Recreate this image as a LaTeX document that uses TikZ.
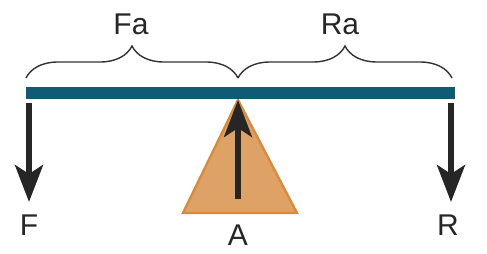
\documentclass[tikz,border=0pt]{standalone}
\usepackage{fontspec}
\setmainfont{Liberation Sans}
\usepackage{xcolor}
\usepackage{tikz}
\usetikzlibrary{arrows.meta, positioning, calc, decorations.pathreplacing}
\definecolor{beamteal}{HTML}{0F5B75}
\definecolor{pivotfill}{HTML}{DFA266}
\definecolor{pivotdraw}{HTML}{D98A3C}
\tikzset{
  lbl/.style={font=\fontsize{30}{34}\selectfont, text=black!85, anchor=base, inner sep=0pt},
  span/.style={decorate, decoration={brace, amplitude=32pt}, draw=black!80, line width=1.4pt},
  force/.style={-{Stealth[length=37pt, width=28pt, inset=9pt]}, line width=5.5pt, black!85},
  pivot/.style={fill=pivotfill, draw=pivotdraw, line width=2.4pt, line join=miter}
}
\begin{document}
\begin{tikzpicture}[x=1pt, y=-1pt]
  \useasboundingbox (0,0) rectangle (487,254);
  % beam and pivot points
  \coordinate (bl) at (26,78);
  \coordinate (bm) at (238,78);
  \coordinate (br) at (452,78);
  \coordinate (apex) at (238,100);
  \draw[pivot] (apex) -- (297,213) -- (183,213) -- cycle;
  \fill[beamteal] (26,87) rectangle (455,99);
  % spans
  \draw[span] (bl) -- (bm);
  \draw[span] (bm) -- (br);
  \node[lbl] (fa) at (131,35) {Fa};
  \node[lbl] (ra) at (340,35) {Ra};
  % forces
  \coordinate (ftop) at (29,103);
  \coordinate (fbot) at (29,202);
  \coordinate (rtop) at (451,103);
  \coordinate (rbot) at (451,202);
  \coordinate (abot) at (238,199);
  \draw[force] (ftop) -- (fbot);
  \draw[force] (rtop) -- (rbot);
  \draw[force] (abot) -- (apex);
  \node[lbl] (f) at (29,235) {F};
  \node[lbl] (r) at (448,235) {R};
  \node[lbl] (a) at (238,245) {A};
\end{tikzpicture}
\end{document}
